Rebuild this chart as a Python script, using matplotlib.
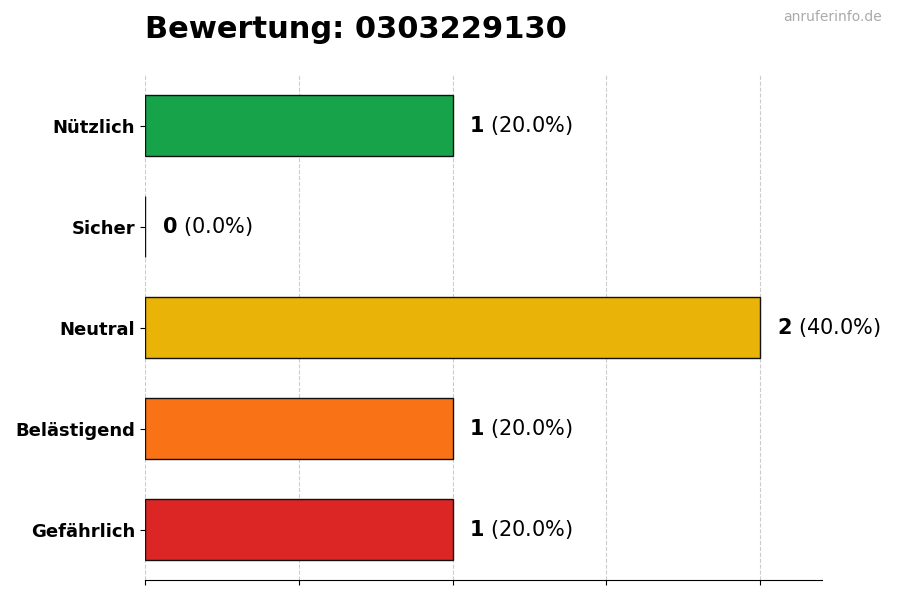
import matplotlib

matplotlib.use("Agg")

import matplotlib.pyplot as plt

CATEGORIES = ["Nützlich", "Sicher", "Neutral", "Belästigend", "Gefährlich"]
COUNTS = [1, 0, 2, 1, 1]
COLORS = ["#16a34a", "#22c55e", "#eab308", "#f97316", "#dc2626"]
TITLE = "Bewertung: 0303229130"

total = sum(COUNTS)

fig = plt.figure(figsize=(9, 6), dpi=100)
axis = fig.add_axes([0.161, 0.033, 0.752, 0.842])

positions = list(range(len(CATEGORIES)))[::-1]
axis.barh(
    positions,
    COUNTS,
    height=0.6,
    color=COLORS,
    edgecolor="#111111",
    linewidth=1,
    zorder=3,
)

for pos, count in zip(positions, COUNTS):
    pct = 100 * count / total
    axis.annotate(
        f"$\\bf{{{count}}}$ ({pct:.1f}%)",
        xy=(count, pos),
        xytext=(12, 0),
        textcoords="offset points",
        va="center",
        ha="left",
        fontsize=15,
    )

axis.set_xlim(0, 2.2)
axis.set_ylim(-0.5, len(CATEGORIES) - 0.5)
axis.set_yticks(positions)
axis.set_yticklabels(CATEGORIES, fontsize=13, fontweight="bold")
axis.set_xticks([0, 0.5, 1, 1.5, 2])
axis.set_xticklabels([])
axis.grid(axis="x", linestyle="--", color="#cccccc", linewidth=0.8, zorder=0)
for side in ("top", "right", "left"):
    axis.spines[side].set_visible(False)

fig.text(0.161, 0.95, TITLE, fontsize=22, fontweight="bold", ha="left", va="center")
fig.text(0.98, 0.972, "anruferinfo.de", fontsize=10, color="#aaaaaa", ha="right", va="center")

plt.savefig("out.png", dpi=100)
plt.close()
